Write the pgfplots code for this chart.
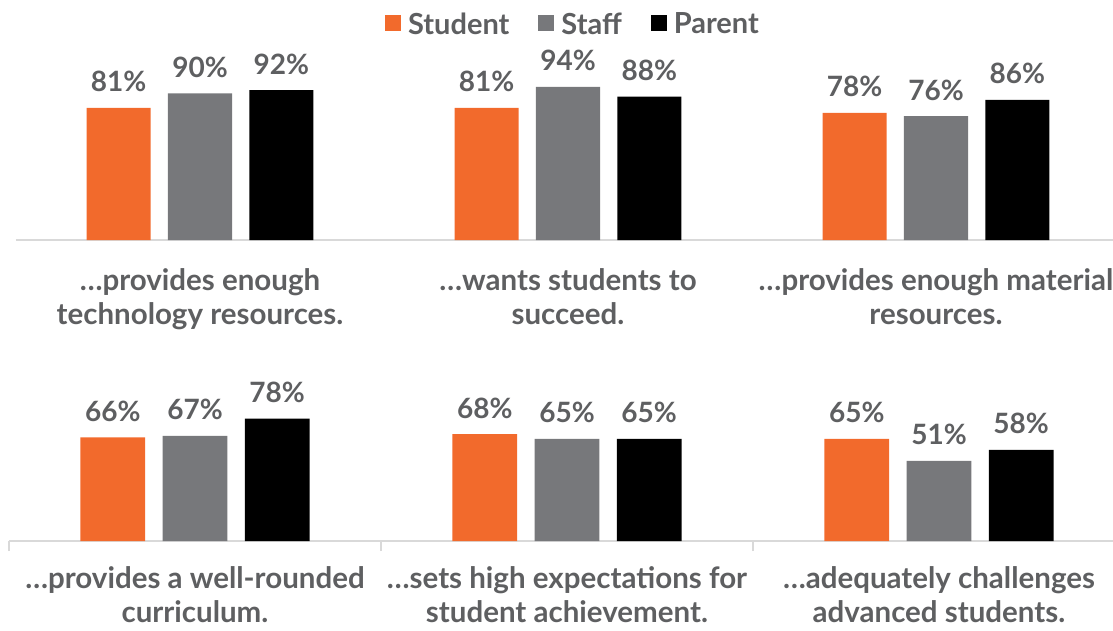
\documentclass[border=0pt]{standalone}
\usepackage{pgfplots}
\pgfplotsset{compat=1.18}
\usepackage{fontspec}
\setmainfont{Lato}
\definecolor{orng}{HTML}{F26A2C}
\definecolor{gry}{HTML}{77787B}
\definecolor{txt}{HTML}{5E5F61}
\definecolor{axl}{HTML}{D9D9D9}
\tikzset{cat/.style={font=\fontsize{29.5}{34.5}\selectfont\bfseries, text=txt, align=center, anchor=north, inner sep=0pt}}
\pgfplotsset{
 common/.style={
  scale only axis, ybar, ymin=0, ymax=100, xmin=-0.5, xmax=2.5,
  bar width=0.174, clip=false,
  axis y line=none, axis x line*=bottom,
  x axis line style={-, draw=axl, line width=1.5pt},
  ytick=\empty,
  point meta=y,
  nodes near coords={\pgfmathprintnumber{\pgfplotspointmeta}\%},
  /pgf/number format/assume math mode=true,
  every node near coord/.append style={font=\fontsize{28}{34}\selectfont\bfseries, text=txt, anchor=base, yshift=16pt, inner sep=0pt},
 },
}
\begin{document}
\begin{tikzpicture}
\useasboundingbox (0pt,0pt) rectangle (1113pt,630pt);
\begin{axis}[common, at={(16pt,390pt)}, anchor=south west, width=1104pt, height=163pt,
  xtick=\empty,
  legend columns=3,
  legend image code/.code={\fill[#1] (0pt,-7pt) rectangle (16pt,9pt);},
  legend style={draw=none, fill=none, at={(0.5,1)}, anchor=center, yshift=53pt, xshift=5pt,
    font=\fontsize{29}{34}\selectfont\bfseries, text=txt,
    /tikz/every odd column/.append style={column sep=5pt},
    /tikz/every even column/.append style={column sep=27pt}},
]
\addplot[fill=orng, draw=none, bar shift=-0.221] coordinates {(0,81) (1,81) (2,78)};
\addplot[fill=gry, draw=none, bar shift=0] coordinates {(0,90) (1,94) (2,76)};
\addplot[fill=black, draw=none, bar shift=0.221] coordinates {(0,92) (1,88) (2,86)};
\legend{Student, Staff, Parent}
\node[cat, yshift=-28pt] at (axis cs:0,0) {…provides enough\\technology resources.};
\node[cat, yshift=-28pt] at (axis cs:1,0) {…wants students to\\succeed.};
\node[cat, yshift=-28pt] at (axis cs:2,0) {…provides enough material\\resources.};
\end{axis}
\begin{axis}[common, at={(9pt,89pt)}, anchor=south west, width=1116pt, height=157pt,
  xtick={-0.5,0.5,1.5,2.5}, xticklabels=\empty,
  major tick length=10pt, tick align=outside,
  xtick style={draw=axl, line width=1.5pt},
]
\addplot[fill=orng, draw=none, bar shift=-0.221] coordinates {(0,66) (1,68) (2,65)};
\addplot[fill=gry, draw=none, bar shift=0] coordinates {(0,67) (1,65) (2,51)};
\addplot[fill=black, draw=none, bar shift=0.221] coordinates {(0,78) (1,65) (2,58)};
\node[cat, yshift=-25pt] at (axis cs:0,0) {…provides a well-rounded\\curriculum.};
\node[cat, yshift=-25pt] at (axis cs:1,0) {…sets high expectations for\\student achievement.};
\node[cat, yshift=-25pt] at (axis cs:2,0) {…adequately challenges\\advanced students.};
\end{axis}
\end{tikzpicture}
\end{document}
